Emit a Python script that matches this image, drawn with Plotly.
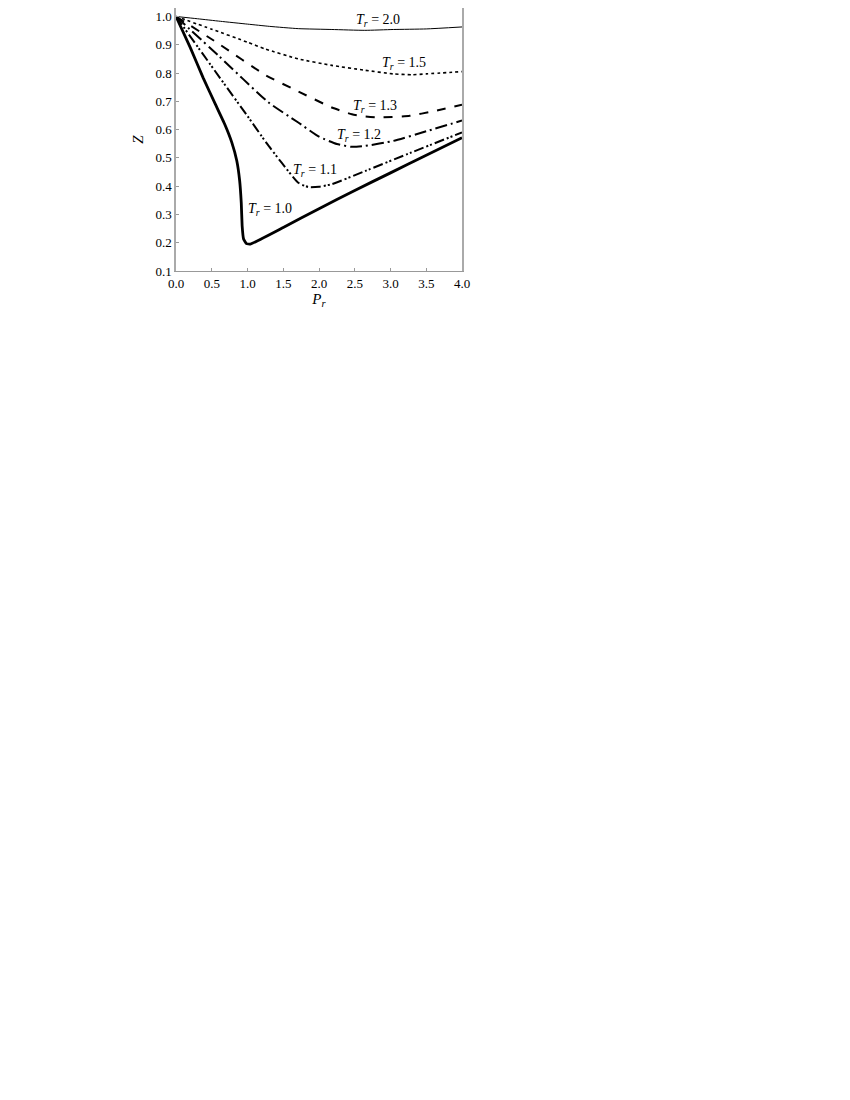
import plotly.graph_objects as go

# reduced pressure / compressibility readings per isotherm
pr_20 = [0.0, 0.3, 0.62, 1.0, 1.31, 1.71, 2.18, 2.64, 3.04, 3.5, 4.0]
z_20 = [1.0, 0.992, 0.983, 0.973, 0.965, 0.957, 0.954, 0.951, 0.954, 0.956, 0.963]

pr_15 = [0.0, 0.5, 1.0, 1.25, 1.71, 2.18, 2.64, 3.04, 3.3, 3.5, 4.0]
z_15 = [1.0, 0.955, 0.909, 0.885, 0.85, 0.827, 0.81, 0.797, 0.794, 0.797, 0.805]

pr_13 = [0.0, 0.6, 1.25, 1.71, 2.18, 2.46, 2.6, 2.85, 3.27, 3.6, 4.0]
z_13 = [1.0, 0.903, 0.793, 0.735, 0.678, 0.654, 0.648, 0.643, 0.649, 0.665, 0.688]

pr_12 = [0.0, 0.6, 1.29, 1.71, 2.0, 2.25, 2.46, 2.64, 3.04, 3.5, 4.0]
z_12 = [1.0, 0.86, 0.697, 0.625, 0.575, 0.549, 0.539, 0.542, 0.56, 0.594, 0.632]

pr_11 = [0.0, 0.62, 1.0, 1.27, 1.48, 1.71, 1.85, 2.0, 2.18, 2.64, 3.3, 4.0]
z_11 = [1.0, 0.781, 0.648, 0.551, 0.482, 0.412, 0.397, 0.398, 0.407, 0.453, 0.52, 0.59]

pr_10 = [0.0, 0.2, 0.38, 0.55, 0.68, 0.78, 0.85, 0.89, 0.913, 0.925, 0.945, 0.985, 1.04, 1.5, 2.0, 2.5, 3.0, 3.5, 4.0]
z_10 = [1.0, 0.89, 0.783, 0.69, 0.62, 0.555, 0.49, 0.42, 0.34, 0.26, 0.213, 0.197, 0.195, 0.254, 0.32, 0.385, 0.447, 0.509, 0.571]

labels = ["2.0", "1.5", "1.3", "1.2", "1.1", "1.0"]
label_pr = [2.82, 3.19, 2.78, 2.56, 1.94, 1.31]
label_z = [0.986, 0.834, 0.682, 0.578, 0.454, 0.316]

x_ticks = [0.0, 0.5, 1.0, 1.5, 2.0, 2.5, 3.0, 3.5, 4.0]
y_ticks = [0.1, 0.2, 0.3, 0.4, 0.5, 0.6, 0.7, 0.8, 0.9, 1.0]

serif = "Liberation Serif, DejaVu Serif, serif"

curves = [
    (pr_20, z_20, 1.0, "solid", 0.5),
    (pr_15, z_15, 1.6, "dot", 0.5),
    (pr_13, z_13, 2.0, "dash", 0.5),
    (pr_12, z_12, 2.0, "12px,4px,2px,4px", 0.5),
    (pr_11, z_11, 2.0, "10px,3px,2px,2px,2px,3px", 0.5),
    (pr_10, z_10, 2.8, "solid", 0.3),
]

fig = go.Figure()
for xs, ys, w, dash, sm in curves:
    fig.add_trace(go.Scatter(
        x=xs, y=ys, mode="lines",
        line=dict(color="black", width=w, dash=dash, shape="spline", smoothing=sm),
        showlegend=False, hoverinfo="skip",
    ))

# isotherm labels
for lab, px, pz in zip(labels, label_pr, label_z):
    fig.add_annotation(
        x=px, y=pz, showarrow=False,
        text="<i>T</i><sub><i>r</i></sub> = " + lab,
        font=dict(family=serif, size=14, color="black"),
    )

fig.update_layout(
    width=850, height=1100,
    margin=dict(l=168, r=396, t=0, b=837),
    plot_bgcolor="white", paper_bgcolor="white",
    font=dict(family=serif, size=13, color="black"),
)
fig.update_xaxes(
    range=[0, 4], tickvals=x_ticks, ticktext=[f"{v:.1f}" for v in x_ticks],
    showgrid=False, zeroline=False,
    showline=True, linecolor="#999999", linewidth=1,
    ticks="inside", ticklen=3, tickcolor="#999999",
    title=dict(text="<i>P</i><sub><i>r</i></sub>", standoff=0, font=dict(size=15)),
)
fig.update_yaxes(
    range=[0.1, 1.03], tickvals=y_ticks, ticktext=[f"{v:.1f}" for v in y_ticks],
    showgrid=False, zeroline=False, ticklabeloverflow="allow",
    showline=True, linecolor="#aaaaaa", linewidth=1.5, mirror=True,
    ticks="inside", ticklen=3, tickcolor="#999999",
    title=dict(text="<i>Z</i>", standoff=8, font=dict(size=15)),
)

fig.write_html("out.html")
